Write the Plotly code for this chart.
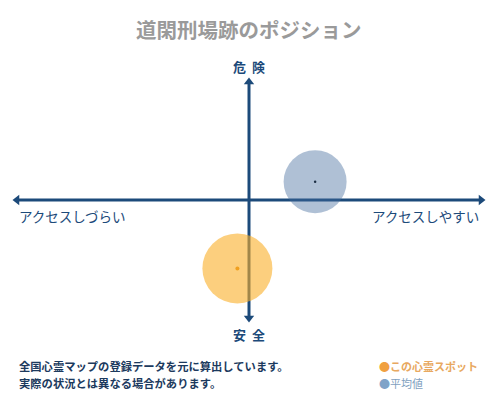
import plotly.graph_objects as go

# position values (access: -1 hard .. 1 easy, danger: -1 safe .. 1 dangerous)
series_names = ["この心霊スポット", "平均値"]
access = [-0.05, 0.285]
danger = [-0.58, 0.155]
circle_colors = ["rgba(250,175,40,0.6)", "rgba(65,105,155,0.42)"]
dot_colors = ["#f0a020", "#1c2e44"]
circle_sizes = [70, 63]
legend_dot_colors = ["#f0a040", "#7fa3c8"]
legend_text_colors = ["#e8a860", "#7f9fc0"]
note_lines = ["全国心霊マップの登録データを元に算出しています。", "実際の状況とは異なる場合があります。"]

axis_color = "#1c4a7a"
font_jp = "Noto Sans CJK JP"

fig = go.Figure()

# axis lines with arrow heads
fig.add_trace(go.Scatter(x=[-1, 1], y=[0, 0], mode="lines+markers",
                         line=dict(color=axis_color, width=3),
                         marker=dict(symbol=["triangle-left", "triangle-right"], size=9, color=axis_color),
                         cliponaxis=False, hoverinfo="skip", showlegend=False))
fig.add_trace(go.Scatter(x=[0, 0], y=[-1, 1], mode="lines+markers",
                         line=dict(color=axis_color, width=3),
                         marker=dict(symbol=["triangle-down", "triangle-up"], size=9, color=axis_color),
                         cliponaxis=False, hoverinfo="skip", showlegend=False))

# circles + centre dots
for i, name in enumerate(series_names):
    fig.add_trace(go.Scatter(x=[access[i]], y=[danger[i]], mode="markers", name=name,
                             marker=dict(size=circle_sizes[i], color=circle_colors[i], line=dict(width=0)),
                             cliponaxis=False, showlegend=False))
    fig.add_trace(go.Scatter(x=[access[i]], y=[danger[i]], mode="markers",
                             marker=dict(size=4 if i == 0 else 2.5, color=dot_colors[i]),
                             hoverinfo="skip", showlegend=False))

annotations = [
    dict(text="<b>道閑刑場跡のポジション</b>", x=0.498, y=1 - 29 / 400, xref="paper", yref="paper",
         yanchor="middle", showarrow=False, font=dict(size=20.5, color="#9a9a9a", family=font_jp)),
    dict(text="<b>危&nbsp;&nbsp;険</b>", x=0, y=1, xref="x", yref="y", yanchor="middle", yshift=15,
         showarrow=False, font=dict(size=13, color=axis_color, family=font_jp)),
    dict(text="<b>安&nbsp;&nbsp;全</b>", x=0, y=-1, xref="x", yref="y", yanchor="middle", yshift=-16,
         showarrow=False, font=dict(size=13, color=axis_color, family=font_jp)),
    dict(text="アクセスしづらい", x=-1, y=0, xref="x", yref="y", xanchor="left", yanchor="middle", yshift=-16,
         showarrow=False, font=dict(size=13.5, color=axis_color, family=font_jp)),
    dict(text="アクセスしやすい", x=1, y=0, xref="x", yref="y", xanchor="right", yanchor="middle", yshift=-16,
         showarrow=False, font=dict(size=13.5, color=axis_color, family=font_jp)),
]

# footnote lines and legend entries, one row each
for row in range(2):
    y_px = 366 + 17 * row
    annotations.append(dict(text="<b>" + note_lines[row] + "</b>", x=17 / 500, y=1 - y_px / 400,
                            xref="paper", yref="paper", xanchor="left", yanchor="middle", showarrow=False,
                            font=dict(size=11.3, color="#1c3a5e", family=font_jp)))
    label = series_names[row] if row == 1 else "<b>" + series_names[row] + "</b>"
    annotations.append(dict(text="<span style='color:" + legend_dot_colors[row] + "'>●</span>" + label,
                            x=377 / 500, y=1 - y_px / 400, xref="paper", yref="paper",
                            xanchor="left", yanchor="middle", showarrow=False,
                            font=dict(size=11, color=legend_text_colors[row], family=font_jp)))

fig.update_layout(
    width=500, height=400,
    margin=dict(l=0, r=0, t=0, b=0),
    paper_bgcolor="white", plot_bgcolor="white",
    xaxis=dict(domain=[17 / 500, 481 / 500], range=[-1, 1], visible=False, fixedrange=True),
    yaxis=dict(domain=[1 - 318 / 400, 1 - 82 / 400], range=[-1, 1], visible=False, fixedrange=True),
    annotations=annotations,
    showlegend=False,
)

# page body has a default 8px margin; drop it so the figure sits at the window origin
fig.write_html("out.html", config={"displayModeBar": False},
               post_script="document.body.style.margin='0';")
